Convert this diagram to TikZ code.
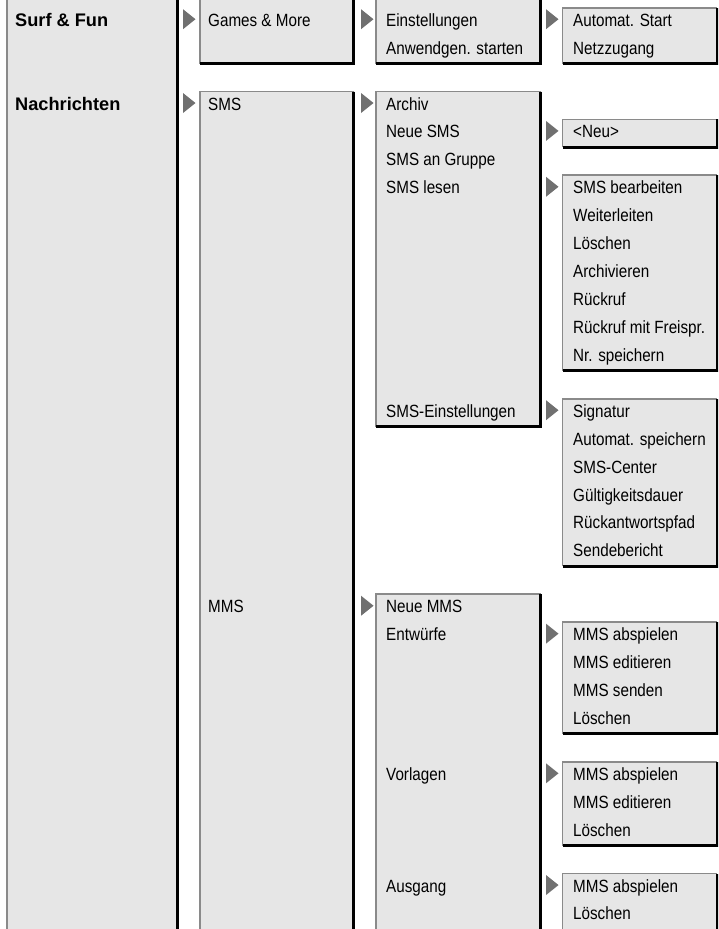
\documentclass[tikz,border=0pt]{standalone}
\usepackage{fontspec}
\usepackage{tikz}
\newfontfamily\menufont{Liberation Sans}[FakeStretch=0.86]
\newfontfamily\headfont{Liberation Sans}
\definecolor{menufill}{HTML}{E6E6E6}
\definecolor{edgegray}{HTML}{8A8A8A}
\definecolor{markgray}{HTML}{707070}

% baseline of menu row k
\newcommand\rowy[1]{110+27.93*(#1)}
% menu box: name, left x, right x, first row, last row
\newcommand\menubox[5]{%
 \coordinate (#1-nw) at (#2,{\rowy{#4}-18.5});
 \coordinate (#1-se) at (#3,{\rowy{#5}+9.5});
 \fill[menufill] (#1-nw) rectangle (#1-se);
 \draw[edgelight] (#1-nw |- #1-se) -- (#1-nw) -- (#1-nw -| #1-se);
 \draw[edgedark] (#1-nw -| #1-se) -- (#1-se) -- (#1-nw |- #1-se);
}

\begin{document}
\begin{tikzpicture}[x=1pt,y=-1pt,
 item/.style={font=\menufont\fontsize{17.7}{20}\selectfont,anchor=base west,inner sep=0pt},
 head/.style={font=\headfont\bfseries\fontsize{18.2}{20}\selectfont,anchor=base west,inner sep=0pt},
 edgelight/.style={draw=edgegray,line width=1.6pt},
 edgedark/.style={draw=black,line width=3pt},
 menuarrow/.pic={\fill[markgray] (0,-10) -- (12.5,0) -- (0,10) -- cycle;}
]
\useasboundingbox (0,0) rectangle (718,929);
\clip (0,0) rectangle (718,929);

% main menu
\menubox{main}{7}{177.5}{-5}{32}
\node[head] (surf) at (15,{\rowy{-3}}) {Surf \& Fun};
\node[head] (nachr) at (15,{\rowy{0}}) {Nachrichten};
\foreach \k in {-3,0} \pic at (183,{\rowy{\k}-7}) {menuarrow};

% second level
\menubox{games}{200}{353.5}{-5}{-2}
\menubox{sms}{200}{353.5}{0}{32}
\node[item] (gm) at (208,{\rowy{-3}}) {Games \& More};
\node[item] (smsitem) at (208,{\rowy{0}}) {SMS};
\node[item] (mmsitem) at (208,{\rowy{18}}) {MMS};
\foreach \k in {-3,0,18} \pic at (361,{\rowy{\k}-7}) {menuarrow};

% third level
\menubox{einst}{376}{540.5}{-5}{-2}
\menubox{smsmenu}{376}{540.5}{0}{11}
\menubox{mmsmenu}{376}{540.5}{18}{32}
\node[item] (einst1) at (386,{\rowy{-3}}) {Einstellungen};
\node[item] (einst2) at (386,{\rowy{-2}}) {Anwendgen. starten};
\foreach \t/\k in {Archiv/0,Neue SMS/1,SMS an Gruppe/2,SMS lesen/3,SMS-Einstellungen/11}
 \node[item] (smsm\k) at (386,{\rowy{\k}}) {\t};
\foreach \t/\k in {Neue MMS/18,Entwürfe/19,Vorlagen/24,Ausgang/28}
 \node[item] (mmsm\k) at (386,{\rowy{\k}}) {\t};
\foreach \k in {-3,1,3,11,19,24,28} \pic at (546,{\rowy{\k}-7}) {menuarrow};

% fourth level
\menubox{start}{562.5}{717}{-3}{-2}
\menubox{neu}{562.5}{717}{1}{1}
\menubox{lesen}{562.5}{717}{3}{9}
\menubox{setup}{562.5}{717}{11}{16}
\menubox{entw}{562.5}{717}{19}{22}
\menubox{vorl}{562.5}{717}{24}{26}
\menubox{ausg}{562.5}{717}{28}{32}
\node[item] (start1) at (573,{\rowy{-3}}) {Automat. Start};
\node[item] (start2) at (573,{\rowy{-2}}) {Netzzugang};
\node[item] (neu1) at (573,{\rowy{1}}) {<Neu>};
\foreach \t [count=\k from 3] in {SMS bearbeiten,Weiterleiten,Löschen,Archivieren,Rückruf,Rückruf mit Freispr.,Nr. speichern}
 \node[item] (lesen\k) at (573,{\rowy{\k}}) {\t};
\foreach \t [count=\k from 11] in {Signatur,Automat. speichern,SMS-Center,Gültigkeitsdauer,Rückantwortspfad,Sendebericht}
 \node[item] (setup\k) at (573,{\rowy{\k}}) {\t};
\foreach \t [count=\k from 19] in {MMS abspielen,MMS editieren,MMS senden,Löschen}
 \node[item] (entw\k) at (573,{\rowy{\k}}) {\t};
\foreach \t [count=\k from 24] in {MMS abspielen,MMS editieren,Löschen}
 \node[item] (vorl\k) at (573,{\rowy{\k}}) {\t};
\foreach \t [count=\k from 28] in {MMS abspielen,Löschen}
 \node[item] (ausg\k) at (573,{\rowy{\k}}) {\t};
\end{tikzpicture}
\end{document}
